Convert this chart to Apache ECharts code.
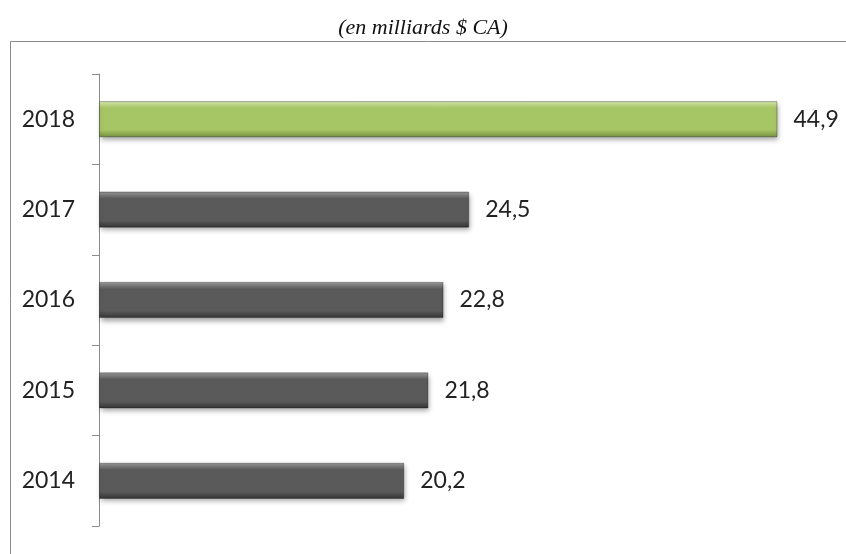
<!DOCTYPE html>
<html>
<head>
<meta charset="utf-8">
<script src="https://cdn.jsdelivr.net/npm/echarts@6/dist/echarts.min.js"></script>
<style>
  html, body { margin: 0; padding: 0; background: #fff; }
  #chart { width: 846px; height: 554px; }
</style>
</head>
<body>
<div id="chart"></div>
<script>
const years = ['2014', '2015', '2016', '2017', '2018']
const revenue = [20.2, 21.8, 22.8, 24.5, 44.9]
const highlightYear = '2018'

const chart = echarts.init(document.getElementById('chart'))

function barGradient (top, mid, bottom) {
  return new echarts.graphic.LinearGradient(0, 0, 0, 1, [
    { offset: 0, color: top },
    { offset: 0.2, color: mid },
    { offset: 0.8, color: mid },
    { offset: 1, color: bottom }
  ])
}

const greenFill = barGradient('#d6e9ac', '#a6c564', '#738f3c')
const grayFill = barGradient('#9a9a9a', '#5a5a5a', '#333333')

const option = {
  backgroundColor: '#fff',
  animation: false,
  title: {
    text: '(en milliards $ CA)',
    left: 'center',
    top: 12,
    textStyle: {
      fontFamily: 'Liberation Serif',
      fontStyle: 'italic',
      fontWeight: 'normal',
      fontSize: 22,
      color: '#111'
    }
  },
  graphic: [{
    type: 'rect',
    shape: { x: 10.5, y: 41.5, width: 860, height: 540 },
    style: { fill: 'none', stroke: '#8a8a8a', lineWidth: 1 },
    silent: true
  }],
  grid: {
    left: 99,
    right: 67,
    top: 74,
    bottom: 28
  },
  xAxis: {
    type: 'value',
    min: 0,
    max: 45,
    show: false
  },
  yAxis: {
    type: 'category',
    data: years,
    axisLine: { show: true, lineStyle: { color: '#8a8a8a', width: 1 } },
    axisTick: { show: true, length: 7, lineStyle: { color: '#8a8a8a' } },
    axisLabel: {
      margin: 24,
      fontFamily: 'Lato',
      fontSize: 23,
      color: '#222'
    },
    splitLine: { show: false }
  },
  series: [{
    type: 'bar',
    barWidth: '40%',
    data: revenue.map((v, i) => ({
      value: v,
      itemStyle: { color: years[i] === highlightYear ? greenFill : grayFill }
    })),
    itemStyle: {
      borderColor: 'rgba(0,0,0,0.3)',
      borderWidth: 1,
      shadowBlur: 5,
      shadowOffsetX: 1,
      shadowOffsetY: 3,
      shadowColor: 'rgba(0,0,0,0.35)'
    },
    label: {
      show: true,
      position: 'right',
      distance: 16,
      fontFamily: 'Lato',
      fontSize: 23,
      color: '#222',
      formatter: p => String(p.value).replace('.', ',')
    }
  }]
}

chart.setOption(option)
</script>
</body>
</html>
